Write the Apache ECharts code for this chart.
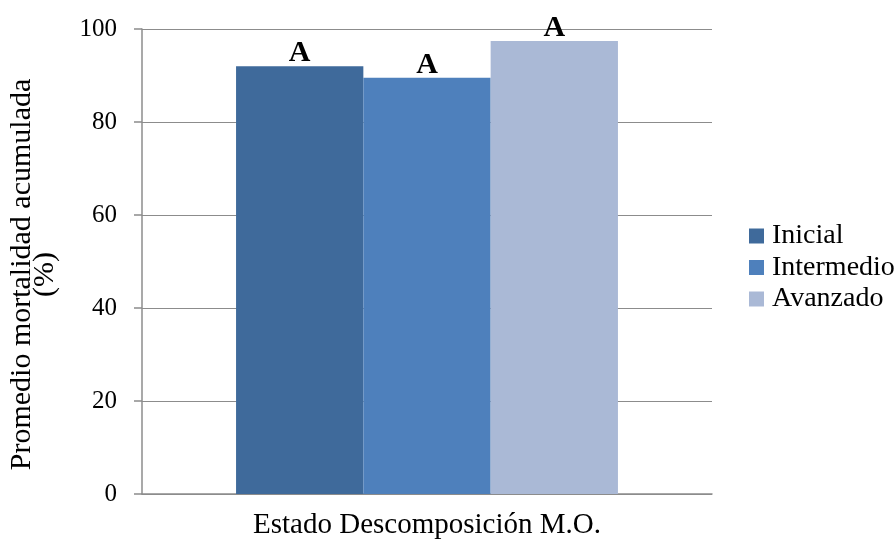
<!DOCTYPE html>
<html>
<head>
<meta charset="utf-8">
<script src="https://cdn.jsdelivr.net/npm/echarts@6/dist/echarts.min.js"></script>
<style>
  html, body { margin: 0; padding: 0; background: #fff; }
  #chart { width: 895px; height: 541px; }
</style>
</head>
<body>
<div id="chart"></div>
<script>
// Mortality by decomposition stage of organic matter
const categories = [''];
const seriesNames = ['Inicial', 'Intermedio', 'Avanzado'];
const seriesValues = [92.0, 89.5, 97.4];
const groupLetters = ['A', 'A', 'A'];
const seriesColors = ['#3f6a9b', '#4e80bc', '#aab9d6'];
const yTicks = [0, 20, 40, 60, 80, 100];

const serif = '"Liberation Serif", "Times New Roman", serif';
const axisGray = '#8c8c8c';

const chart = echarts.init(document.getElementById('chart'), null, { renderer: 'canvas' });

const series = seriesNames.map((name, i) => ({
  name: name,
  type: 'bar',
  data: [seriesValues[i]],
  barGap: '0%',
  barCategoryGap: '33%',
  itemStyle: { color: seriesColors[i] },
  label: {
    show: true,
    position: 'top',
    distance: -2,
    formatter: () => groupLetters[i],
    fontFamily: serif,
    fontWeight: 'bold',
    fontSize: 30,
    color: '#000'
  }
}));

chart.setOption({
  animation: false,
  backgroundColor: '#ffffff',
  textStyle: { fontFamily: serif },
  grid: { left: 142, right: 183, top: 29, bottom: 47, outerBoundsMode: 'none', containLabel: false },
  legend: {
    orient: 'vertical',
    left: 744,
    top: 217,
    itemWidth: 15,
    itemHeight: 15,
    itemGap: 3.5,
    icon: 'rect',
    textStyle: { fontFamily: serif, fontSize: 28, lineHeight: 28, color: '#000', padding: [0, 0, 0, 3] },
    data: seriesNames
  },
  xAxis: {
    type: 'category',
    data: categories,
    name: 'Estado Descomposición M.O.',
    nameLocation: 'middle',
    nameGap: 17,
    nameTextStyle: { fontFamily: serif, fontSize: 29, color: '#000', verticalAlign: 'top' },
    axisLine: { lineStyle: { color: axisGray, width: 1.5 } },
    axisTick: { show: false },
    axisLabel: { show: false }
  },
  yAxis: {
    type: 'value',
    min: yTicks[0],
    max: yTicks[yTicks.length - 1],
    interval: yTicks[1] - yTicks[0],
    name: 'Promedio mortalidad acumulada\n(%)',
    nameLocation: 'middle',
    nameGap: 85,
    nameTextStyle: { fontFamily: serif, fontSize: 30, color: '#000', lineHeight: 23, padding: [0, 26, 0, 0] },
    axisLine: { show: true, lineStyle: { color: axisGray, width: 1.5 } },
    axisTick: { show: true, length: 8, lineStyle: { color: axisGray, width: 1.5 } },
    axisLabel: { fontFamily: serif, fontSize: 25, color: '#000', margin: 25 },
    splitLine: { show: true, lineStyle: { color: axisGray, width: 1.2 } }
  },
  series: series
});
</script>
</body>
</html>
